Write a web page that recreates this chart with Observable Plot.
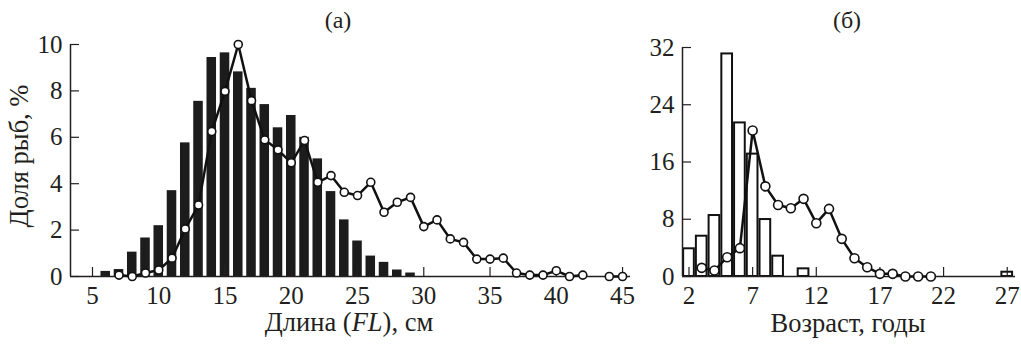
<!DOCTYPE html>
<html>
<head>
<meta charset="utf-8">
<script src="https://cdn.jsdelivr.net/npm/d3@7"></script>
<script src="https://cdn.jsdelivr.net/npm/@observablehq/plot@0.6"></script>
<style>
  body { margin: 0; background: #fff; }
  #fig { position: relative; width: 1021px; height: 344px; }
  #fig svg { position: absolute; top: 0; }
  #fig svg, #fig svg text, #fig svg tspan { font-family: "Liberation Serif", "DejaVu Serif", serif !important; }
</style>
</head>
<body>
<div id="fig"></div>
<script>
// (а) length distribution, % of fish per 1-cm class
const lenBins  = [6, 7, 8, 9, 10, 11, 12, 13, 14, 15, 16, 17, 18, 19, 20, 21, 22, 23, 24, 25, 26, 27, 28, 29];
const lenShare = [0.22, 0.30, 1.05, 1.66, 2.19, 3.70, 5.76, 7.55, 9.44, 9.64, 8.82, 8.11, 7.41, 6.41, 6.94, 6.00, 5.07, 3.66, 2.44, 1.53, 0.88, 0.61, 0.28, 0.15];
const lenLineX = [7, 8, 9, 10, 11, 12, 13, 14, 15, 16, 17, 18, 19, 20, 21, 22, 23, 24, 25, 26, 27, 28, 29, 30, 31, 32, 33, 34, 35, 36, 37, 38, 39, 40, 41, 42, 43, 44, 45];
const lenLineY = [0.06, 0, 0.15, 0.28, 0.79, 2.05, 3.08, 6.25, 7.98, 10.0, 7.58, 5.89, 5.46, 4.90, 5.86, 4.06, 4.35, 3.63, 3.49, 4.06, 2.77, 3.20, 3.41, 2.15, 2.44, 1.62, 1.47, 0.75, 0.75, 0.79, 0.15, 0.06, 0.06, 0.25, 0, 0.06, null, 0, 0];
const lenXTicks = [5, 10, 15, 20, 25, 30, 35, 40, 45];
const lenYTicks = [0, 2, 4, 6, 8, 10];

// (б) age distribution, % of fish per year class
const ageBins  = [2, 3, 4, 5, 6, 7, 8, 9, 11, 27];
const ageShare = [3.87, 5.63, 8.52, 31.1, 21.46, 17.1, 7.96, 2.84, 1.07, 0.6];
const ageLineX = [3, 4, 5, 6, 7, 8, 9, 10, 11, 12, 13, 14, 15, 16, 17, 18, 19, 20, 21];
const ageLineY = [1.21, 0.84, 2.70, 3.96, 20.4, 12.6, 10.0, 9.54, 10.85, 7.45, 9.45, 5.26, 2.56, 1.30, 0.37, 0.37, 0, 0, 0];
const ageXTicks = [2, 7, 12, 17, 22, 27];
const ageYTicks = [0, 8, 16, 24, 32];

const ink = "#231f20";
const font = "Liberation Serif";
const H = 344;

function panel({width, margin, xDomain, yDomain, xTicks, yTicks, bars, barHalf, barStyle, lineData, dotR}) {
  const plotW = width - margin.left - margin.right;
  const plotH = H - margin.top - margin.bottom;
  return Plot.plot({
    width, height: H,
    marginTop: margin.top, marginRight: margin.right,
    marginBottom: margin.bottom, marginLeft: margin.left,
    style: {fontFamily: font, fontSize: "25px", color: ink, background: "white", overflow: "visible"},
    x: {domain: xDomain},
    y: {domain: yDomain},
    marks: [
      Plot.rectY(bars, {x1: d => d.x - barHalf, x2: d => d.x + barHalf, y: "v", ...barStyle}),
      // axis lines
      Plot.ruleY([yDomain[0]], {stroke: ink, strokeWidth: 1.5}),
      Plot.ruleX([xDomain[0]], {y1: yDomain[0], y2: yDomain[1], stroke: ink, strokeWidth: 1.5}),
      // inward tick marks
      Plot.tickY(yTicks, {y: d => d, insetRight: plotW - 9, stroke: ink, strokeWidth: 1.2}),
      Plot.tickX(xTicks, {x: d => d, insetTop: plotH - 9, stroke: ink, strokeWidth: 1.2}),
      Plot.axisX({ticks: xTicks, tickSize: 0, tickPadding: 10, label: null}),
      Plot.axisY({ticks: yTicks, tickSize: 0, tickPadding: 8, label: null}),
      Plot.line(lineData, {x: "x", y: "y", stroke: "#111", strokeWidth: 2.5}),
      Plot.dot(lineData, {x: "x", y: "y", r: dotR, fill: "white", stroke: "#111", strokeWidth: 1.6})
    ]
  });
}

const leftPlot = panel({
  width: 640,
  margin: {top: 44, right: 10, bottom: 68, left: 70},
  xDomain: [3.34, 45.6], yDomain: [0, 10],
  xTicks: lenXTicks, yTicks: lenYTicks,
  bars: lenBins.map((x, i) => ({x, v: lenShare[i]})),
  barHalf: 0.36,
  barStyle: {fill: "#1c1c1c"},
  lineData: lenLineX.map((x, i) => ({x, y: lenLineY[i]})),
  dotR: 4
});

const rightPlot = panel({
  width: 381,
  margin: {top: 47, right: 6, bottom: 68, left: 42},
  xDomain: [1.49, 27.65], yDomain: [0, 32],
  xTicks: ageXTicks, yTicks: ageYTicks,
  bars: ageBins.map((x, i) => ({x, v: ageShare[i]})),
  barHalf: 0.42,
  barStyle: {fill: "white", stroke: "#111", strokeWidth: 2},
  lineData: ageLineX.map((x, i) => ({x, y: ageLineY[i]})),
  dotR: 4.5
});

const fig = document.getElementById("fig");
leftPlot.style.left = "0px";
rightPlot.style.left = "640px";
fig.appendChild(leftPlot);
fig.appendChild(rightPlot);

// panel letters and axis titles
function label(svg, x, y, parts, opts = {}) {
  const t = d3.select(svg).append("text")
    .attr("x", x).attr("y", y)
    .attr("text-anchor", "middle")
    .attr("fill", ink)
    .attr("font-size", opts.size || 26.5);
  if (opts.rotate) t.attr("x", 0).attr("y", 0).attr("transform", `translate(${x},${y}) rotate(-90)`);
  for (const p of parts) {
    const s = t.append("tspan").text(p.text);
    if (p.italic) s.attr("font-style", "italic");
  }
}

label(leftPlot, 338, 27.5, [{text: "(а)"}], {size: 24});
label(leftPlot, 349, 331, [{text: "Длина ("}, {text: "FL", italic: true}, {text: "), см"}]);
label(leftPlot, 28, 156, [{text: "Доля рыб, %"}], {rotate: true});
label(rightPlot, 207, 27.5, [{text: "(б)"}], {size: 24});
label(rightPlot, 208, 332, [{text: "Возраст, годы"}]);
</script>
</body>
</html>
